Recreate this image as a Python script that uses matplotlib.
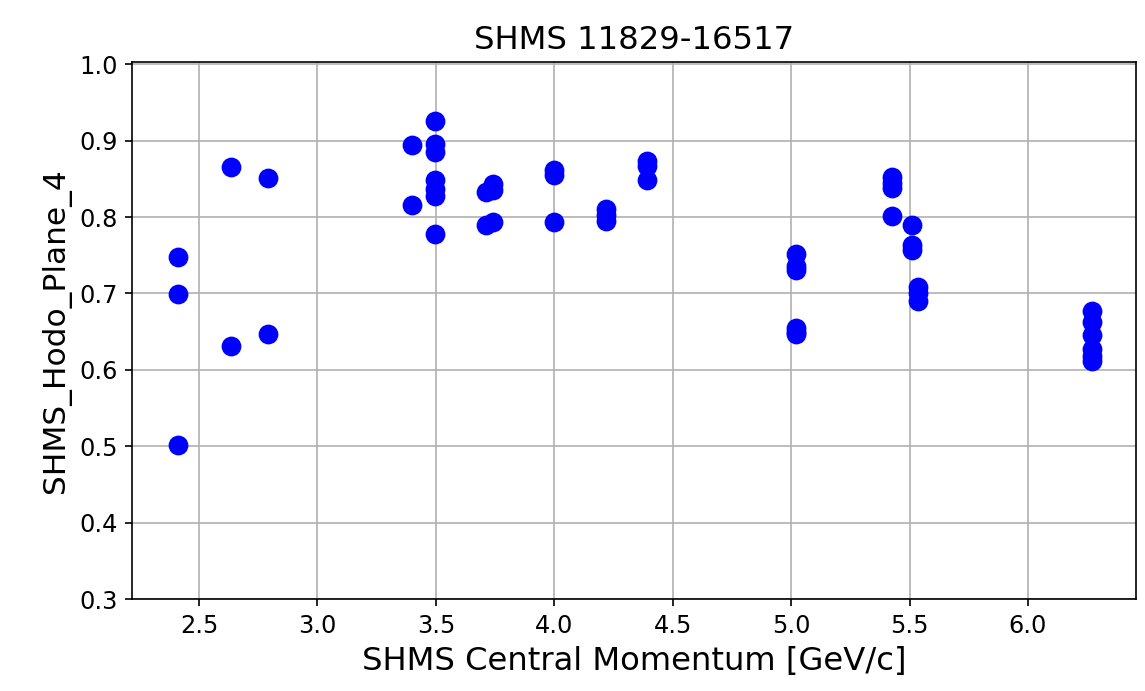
import matplotlib
matplotlib.use("Agg")
import matplotlib.pyplot as plt

# central momentum [GeV/c] and plane 4 efficiency, one entry per run group
momentum = [2.41, 2.41, 2.41,
            2.635, 2.635,
            2.79, 2.79,
            3.40, 3.40,
            3.495, 3.495, 3.495, 3.495, 3.495, 3.495, 3.495,
            3.71, 3.71,
            3.74, 3.74, 3.74,
            4.00, 4.00, 4.00,
            4.22, 4.22, 4.22,
            4.39, 4.39, 4.39,
            5.02, 5.02, 5.02, 5.02, 5.02, 5.02,
            5.425, 5.425, 5.425, 5.425,
            5.51, 5.51, 5.51,
            5.535, 5.535, 5.535,
            6.27, 6.27, 6.27, 6.27, 6.27, 6.27]
plane4 = [0.748, 0.699, 0.502,
          0.865, 0.631,
          0.851, 0.647,
          0.894, 0.816,
          0.926, 0.895, 0.885, 0.849, 0.837, 0.827, 0.778,
          0.833, 0.790,
          0.843, 0.835, 0.793,
          0.862, 0.855, 0.793,
          0.811, 0.803, 0.795,
          0.874, 0.867, 0.848,
          0.752, 0.736, 0.731, 0.655, 0.650, 0.647,
          0.852, 0.845, 0.838, 0.801,
          0.790, 0.763, 0.757,
          0.709, 0.700, 0.690,
          0.677, 0.663, 0.645, 0.627, 0.618, 0.612]

x_ticks = [2.5, 3.0, 3.5, 4.0, 4.5, 5.0, 5.5, 6.0]
y_ticks = [0.3, 0.4, 0.5, 0.6, 0.7, 0.8, 0.9, 1.0]

fig = plt.figure(figsize=(1145 / 150, 691 / 150), dpi=150)
ax = fig.add_axes([0.1153, 0.1331, 0.8768, 0.7772])
ax.plot(momentum, plane4, "o", color="blue", markersize=8.5, zorder=3)
ax.set_xlim(2.217, 6.456)
ax.set_ylim(0.3, 1.003)
ax.set_xticks(x_ticks)
ax.set_yticks(y_ticks)
ax.tick_params(labelsize=11.5)
ax.grid(True)
ax.set_xlabel("SHMS Central Momentum [GeV/c]", fontsize=15.5)
ax.set_ylabel("SHMS_Hodo_Plane_4", fontsize=15)
ax.set_title("SHMS 11829-16517", fontsize=15.5)
fig.savefig("out.png", dpi=150)
